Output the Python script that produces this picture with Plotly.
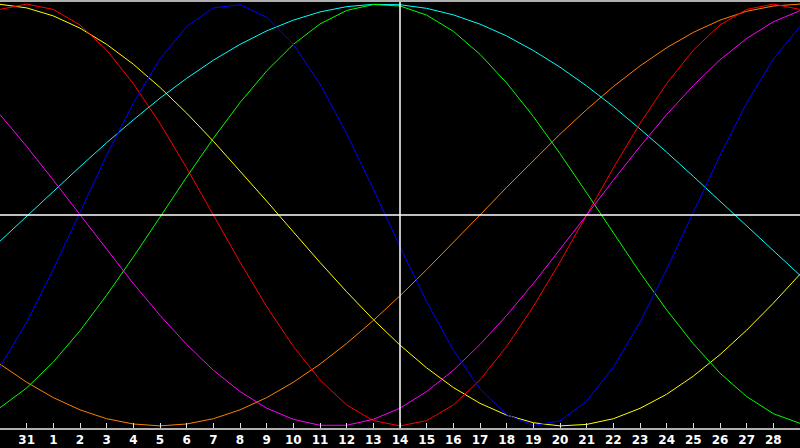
import plotly.graph_objects as go

# Day positions: -1 = Jan 30, 0 = Jan 31, 1..28 = Feb, 29 = Mar 1
days = list(range(-1, 30))
tick_days = list(range(0, 29))
tick_labels = ["31"] + [str(i) for i in range(1, 29)]
today = 14

red = [0.975, 1.0, 0.975, 0.901, 0.782, 0.623, 0.434, 0.223, 0.0, -0.223, -0.434,
       -0.623, -0.782, -0.901, -0.975, -1.0, -0.975, -0.901, -0.782, -0.623, -0.434,
       -0.223, 0.0, 0.223, 0.434, 0.623, 0.782, 0.901, 0.975, 1.0, 0.975]
yellow = [0.999, 0.982, 0.944, 0.886, 0.809, 0.715, 0.605, 0.483, 0.350, 0.210, 0.066,
          -0.080, -0.225, -0.364, -0.496, -0.617, -0.725, -0.818, -0.893, -0.949, -0.985,
          -1.0, -0.993, -0.966, -0.917, -0.850, -0.764, -0.662, -0.546, -0.418, -0.281]
blue = [-0.721, -0.508, -0.257, 0.014, 0.283, 0.531, 0.740, 0.894, 0.982, 0.997, 0.938,
        0.809, 0.621, 0.386, 0.123, -0.150, -0.411, -0.641, -0.825, -0.947, -0.998,
        -0.976, -0.882, -0.722, -0.508, -0.257, 0.014, 0.283, 0.531, 0.740, 0.894]
cyan = [-0.124, -0.006, 0.112, 0.229, 0.343, 0.451, 0.554, 0.648, 0.734, 0.809, 0.873,
        0.924, 0.963, 0.988, 0.999, 0.997, 0.980, 0.949, 0.905, 0.849, 0.780,
        0.701, 0.612, 0.514, 0.408, 0.298, 0.183, 0.065, -0.053, -0.171, -0.286]
green = [-0.914, -0.820, -0.697, -0.549, -0.380, -0.199, -0.010, 0.180, 0.363, 0.533, 0.683,
         0.809, 0.906, 0.970, 0.998, 0.991, 0.948, 0.871, 0.762, 0.626, 0.467,
         0.291, 0.105, -0.086, -0.273, -0.450, -0.611, -0.750, -0.861, -0.942, -0.988]
magenta = [0.476, 0.325, 0.165, 0.0, -0.165, -0.325, -0.476, -0.614, -0.736, -0.837, -0.916,
           -0.969, -0.997, -0.997, -0.969, -0.916, -0.837, -0.736, -0.614, -0.476, -0.325,
           -0.165, 0.0, 0.165, 0.325, 0.476, 0.614, 0.736, 0.837, 0.916, 0.969]
orange = [-0.707, -0.793, -0.866, -0.924, -0.966, -0.991, -1.0, -0.991, -0.966, -0.924, -0.866,
          -0.793, -0.707, -0.609, -0.5, -0.383, -0.259, -0.131, 0.0, 0.131, 0.259,
          0.383, 0.5, 0.609, 0.707, 0.793, 0.866, 0.924, 0.966, 0.991, 1.0]

series = [
    ("cyan", cyan, "#00ffff"),
    ("orange", orange, "#ff8000"),
    ("yellow", yellow, "#ffff00"),
    ("red", red, "#ff0000"),
    ("green", green, "#00ff00"),
    ("magenta", magenta, "#ff00ff"),
    ("blue", blue, "#0000ff"),
]

fig = go.Figure()
for name, vals, col in series:
    fig.add_trace(go.Scatter(x=days, y=vals, mode="lines", name=name,
                             line=dict(color=col, width=1), hoverinfo="skip"))

fig.add_shape(type="line", xref="x", yref="paper", x0=today, x1=today, y0=0, y1=1,
              line=dict(color="white", width=1.5), layer="above")
fig.add_shape(type="line", xref="paper", yref="y", x0=0, x1=1, y0=0, y1=0,
              line=dict(color="white", width=1.5), layer="above")

fig.update_layout(
    width=800, height=448,
    margin=dict(l=0, r=0, t=0, b=20),
    paper_bgcolor="black", plot_bgcolor="black",
    showlegend=False,
    xaxis=dict(range=[-1, 29], tickvals=tick_days, ticktext=tick_labels,
               ticks="inside", ticklen=5, tickcolor="#e0e0e0", tickwidth=1,
               showgrid=False, zeroline=False,
               showline=True, linecolor="#b0b0b0", linewidth=2, mirror=True,
               tickfont=dict(family="DejaVu Sans", size=12, color="white", weight="bold"),
               fixedrange=True),
    yaxis=dict(range=[-1.01, 1.01], showticklabels=False, ticks="",
               showgrid=False, zeroline=False,
               showline=True, linecolor="#b0b0b0", linewidth=1,
               fixedrange=True),
)

fig.write_html("out.html", config={"displayModeBar": False},
               post_script="document.body.style.margin='0';document.body.style.overflow='hidden';")
